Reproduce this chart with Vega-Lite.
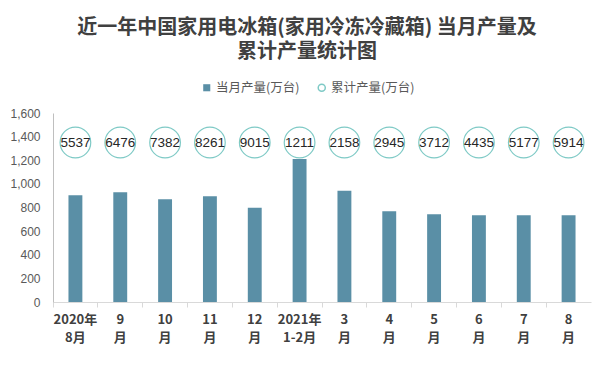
{
  "$schema": "https://vega.github.io/schema/vega-lite/v6.json",
  "width": 538,
  "height": 189,
  "autosize": {"type": "none"},
  "padding": {"left": 53, "top": 113, "right": 23, "bottom": 68},
  "background": "white",
  "config": {
    "view": {"stroke": null},
    "font": "Noto Sans CJK SC",
    "axisY": {
      "values": [0, 200, 400, 600, 800, 1000, 1200, 1400, 1600],
      "format": ",d",
      "grid": false,
      "ticks": false,
      "labelOverlap": false,
      "labelPadding": 13,
      "labelFontSize": 12,
      "labelColor": "#595959",
      "domainColor": "#bfbfbf",
      "labelFont": "Liberation Sans",
      "title": null
    }
  },
  "title": {
    "text": ["近一年中国家用电冰箱(家用冷冻冷藏箱) 当月产量及", "累计产量统计图"],
    "font": "Noto Sans CJK SC",
    "fontSize": 20,
    "fontWeight": "bold",
    "color": "#404040",
    "lineHeight": 24,
    "anchor": "middle",
    "frame": "group",
    "baseline": "bottom",
    "dx": -15,
    "offset": 0
  },
  "data": {
    "values": [
      {"month": "2020年|8月", "monthly": 904, "cumulative": 5537},
      {"month": "9|月", "monthly": 929, "cumulative": 6476},
      {"month": "10|月", "monthly": 870, "cumulative": 7382},
      {"month": "11|月", "monthly": 895, "cumulative": 8261},
      {"month": "12|月", "monthly": 797, "cumulative": 9015},
      {"month": "2021年|1-2月", "monthly": 1211, "cumulative": 1211},
      {"month": "3|月", "monthly": 941, "cumulative": 2158},
      {"month": "4|月", "monthly": 769, "cumulative": 2945},
      {"month": "5|月", "monthly": 743, "cumulative": 3712},
      {"month": "6|月", "monthly": 735, "cumulative": 4435},
      {"month": "7|月", "monthly": 735, "cumulative": 5177},
      {"month": "8|月", "monthly": 735, "cumulative": 5914}
    ]
  },
  "encoding": {
    "x": {
      "field": "month",
      "type": "nominal",
      "sort": null,
      "scale": {"paddingInner": 0, "paddingOuter": 0},
      "axis": {
        "title": null,
        "labelAngle": 0,
        "labelExpr": "split(datum.value, '|')",
        "labelFontSize": 13,
        "labelFontWeight": "bold",
        "labelColor": "#404040",
        "labelLineHeight": 18,
        "labelPadding": 6,
        "labelBaseline": "top",
        "bandPosition": 0,
        "tickSize": 5,
        "tickColor": "#d9d9d9",
        "domainColor": "#d9d9d9",
        "labelFont": "Noto Sans CJK SC"
      }
    }
  },
  "layer": [
    {
      "mark": {"type": "bar", "width": {"band": 0.31}},
      "encoding": {
        "y": {
          "field": "monthly",
          "type": "quantitative",
          "scale": {"domain": [0, 1600]},
          "axis": {"values": [0, 200, 400, 600, 800, 1000, 1200, 1400, 1600], "labelOverlap": false}
        },
        "fill": {
          "datum": "当月产量(万台)",
          "scale": {"range": ["#5a8fa6"]},
          "legend": {
            "title": null,
            "orient": "none",
            "legendX": 147.5,
            "legendY": -31.5,
            "labelFontSize": 12.5,
            "labelColor": "#595959",
            "labelFont": "Noto Sans CJK SC",
            "labelOffset": 3,
            "symbolType": "square",
            "symbolSize": 50
          }
        }
      }
    },
    {
      "mark": {"type": "point", "filled": false, "fill": "white", "fillOpacity": 1, "size": 940, "strokeWidth": 1.2, "opacity": 1},
      "encoding": {
        "y": {"datum": 1350, "type": "quantitative", "axis": {"values": [0, 200, 400, 600, 800, 1000, 1200, 1400, 1600], "labelOverlap": false}},
        "stroke": {
          "datum": "累计产量(万台)",
          "scale": {"range": ["#7fcac6"]},
          "legend": {
            "title": null,
            "orient": "none",
            "legendX": 262.5,
            "legendY": -31.5,
            "labelFontSize": 12.5,
            "labelColor": "#595959",
            "labelFont": "Noto Sans CJK SC",
            "labelOffset": 3,
            "symbolType": "circle",
            "symbolSize": 50,
            "symbolStrokeWidth": 1.5
          }
        }
      }
    },
    {
      "mark": {"type": "text", "fontSize": 13.5, "color": "#262626", "font": "Liberation Sans"},
      "encoding": {
        "y": {"datum": 1350, "type": "quantitative", "axis": {"values": [0, 200, 400, 600, 800, 1000, 1200, 1400, 1600], "labelOverlap": false}},
        "text": {"field": "cumulative", "type": "quantitative", "format": "d"}
      }
    }
  ]
}
